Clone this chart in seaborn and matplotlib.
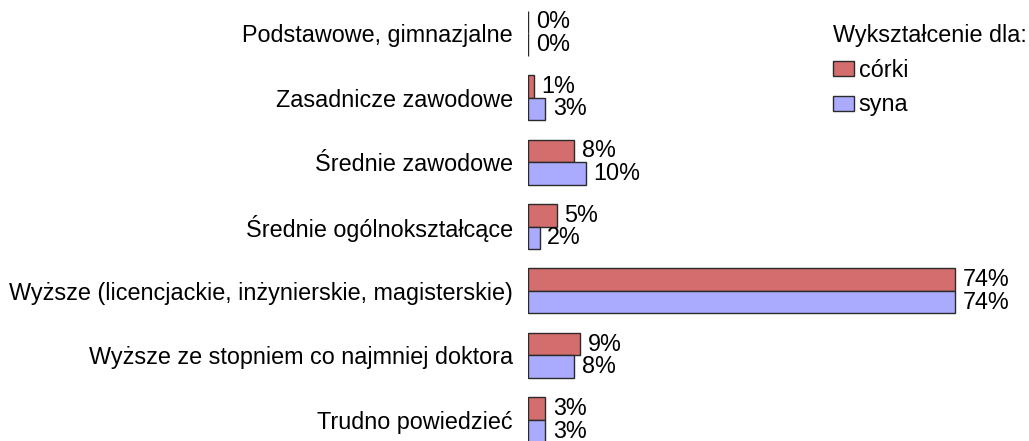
import pandas as pd
import matplotlib
matplotlib.use("Agg")
import matplotlib.pyplot as plt
import seaborn as sns

# data
categories = [
    "Podstawowe, gimnazjalne",
    "Zasadnicze zawodowe",
    "Średnie zawodowe",
    "Średnie ogólnokształcące",
    "Wyższe (licencjackie, inżynierskie, magisterskie)",
    "Wyższe ze stopniem co najmniej doktora",
    "Trudno powiedzieć",
]
corki = [0, 1, 8, 5, 74, 9, 3]
syna = [0, 3, 10, 2, 74, 8, 3]
groups = ["córki", "syna"]

df = pd.DataFrame({
    "kategoria": categories * 2,
    "procent": corki + syna,
    "dla": [groups[0]] * len(categories) + [groups[1]] * len(categories),
})

sns.set_style("white")
plt.rcParams["font.family"] = ["Liberation Sans", "DejaVu Sans"]
plt.rcParams["text.color"] = "black"
plt.rcParams["ytick.color"] = "black"
fs = 16.8

fig = plt.figure(figsize=(10.29, 4.41), dpi=100)
ax = fig.add_axes([528 / 1029, -11 / 441, (1000 - 528) / 1029, 451 / 441])

sns.barplot(data=df, y="kategoria", x="procent", hue="dla", hue_order=groups,
            order=categories, orient="h", width=0.70,
            palette=["#D46E6E", "#AAAAFF"], edgecolor="#2a2a2a", linewidth=1,
            saturation=1, ax=ax)

ax.set_xlim(0, 74 * 472 / 427)
ax.set_ylim(6.5, -0.5)
for c in ax.containers:
    ax.bar_label(c, fmt="{:.0f}%", padding=5.5, fontsize=fs, color="black")

ax.set_xlabel("")
ax.set_ylabel("")
ax.set_xticks([])
ax.tick_params(axis="y", length=0, pad=11, labelsize=fs, labelcolor="black")
sns.despine(ax=ax, left=True, bottom=True)

handles, labels = ax.get_legend_handles_labels()
leg = ax.legend(handles, labels, title="Wykształcenie dla:", loc="upper left",
                bbox_to_anchor=(833 / 1029, 1 - 24 / 441), bbox_transform=fig.transFigure,
                frameon=False, fontsize=fs, title_fontsize=fs, borderpad=0,
                handlelength=0.9, handleheight=0.6, handletextpad=0.2,
                labelspacing=0.5, alignment="left", borderaxespad=0)
for t in leg.get_texts():
    t.set_color("black")
leg.get_title().set_color("black")

fig.savefig("out.png", dpi=100)
